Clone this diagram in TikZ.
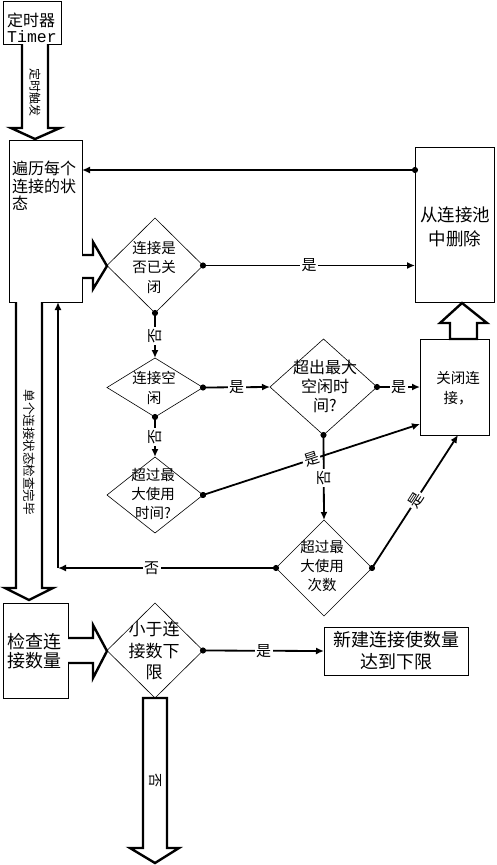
\documentclass[tikz,border=0pt]{standalone}
\usepackage{fontspec}
\newfontfamily\cjk{Noto Sans CJK SC}
\newfontfamily\monof{Liberation Mono}
\usetikzlibrary{shapes.geometric,arrows.meta}
\newcommand{\fs}[2]{\fontsize{#1}{#2}\selectfont}
\begin{document}
\begin{tikzpicture}[x=1pt,y=-1pt,
  every node/.style={font=\cjk},
  box/.style={draw,line width=0.9pt,inner sep=0pt,outer sep=0pt},
  dia/.style={draw,diamond,line width=0.6pt,inner sep=0pt,outer sep=0pt},
  txt/.style={align=center,inner sep=0pt},
  conn/.style={line width=1.8pt,shorten <=-3pt,{Circle[length=6pt]}-{Latex[length=8pt,width=7pt]}},
  lbl/.style={fill=white,inner sep=1.5pt,font=\cjk\fs{15}{15}},
  barrow/.style={draw,fill=white,line width=2.4pt,line join=miter},
  blbl/.style={inner sep=0pt,rotate=-90,font=\cjk\fs{12}{12}},
]
\useasboundingbox (0,0) rectangle (497,865);

% boxes
\node[box,minimum width=58pt,minimum height=43pt] (T) at (32,22.5) {};
\node[txt,font=\cjk\fs{16}{17}] (Tt1) at (31,20) {定时器};
\node[txt,font=\monof\fs{16.5}{17}] (Tt2) at (32,37) {Timer};

\node[box,minimum width=73pt,minimum height=162pt] (A) at (45.5,221) {};
\node[align=left,inner sep=0pt,anchor=north west,font=\cjk\fs{16}{17.5}] (At) at (12,161) {遍历每个\\连接的状\\态};

\node[box,minimum width=79pt,minimum height=155pt] (B) at (454.5,224.5) {};
\node[txt,font=\cjk\fs{17.5}{24}] (Bt) at (455,227) {从连接池\\中删除};

\node[box,minimum width=69pt,minimum height=96pt] (C) at (454.5,387) {};
\node[txt,font=\cjk\fs{14.5}{20}] (Ct) at (458,388) {关闭连\\接，};

\node[box,minimum width=65pt,minimum height=95pt] (E) at (35.5,650.5) {};
\node[txt,font=\cjk\fs{18}{19}] (Et) at (35,651) {检查连\\接数量};

\node[box,minimum width=144pt,minimum height=48pt] (F) at (396,651) {};
\node[txt,font=\cjk\fs{18}{22}] (Ft) at (396,651) {新建连接使数量\\达到下限};

% diamonds
\node[dia,minimum width=96pt,minimum height=95pt] (D1) at (155,265.5) {};
\node[txt,font=\cjk\fs{14.5}{19.5}] (D1t) at (154,267) {连接是\\否已关\\闭};
\node[dia,minimum width=96pt,minimum height=59pt] (D2) at (155,387.5) {};
\node[txt,font=\cjk\fs{14.5}{20}] (D2t) at (154,388) {连接空\\闲};
\node[dia,minimum width=107pt,minimum height=96pt] (D3) at (323.5,387) {};
\node[txt,font=\cjk\fs{16}{19}] (D3t) at (325,386) {超出最大\\空闲时\\间?};
\node[dia,minimum width=96pt,minimum height=76pt] (D4) at (155,495) {};
\node[txt,font=\cjk\fs{14.5}{19}] (D4t) at (153,494) {超过最\\大使用\\时间?};
\node[dia,minimum width=96pt,minimum height=96pt] (D5) at (324,568) {};
\node[txt,font=\cjk\fs{14.5}{19}] (D5t) at (322,566) {超过最\\大使用\\次数};
\node[dia,minimum width=96pt,minimum height=95pt] (D6) at (155,650.5) {};
\node[txt,font=\cjk\fs{17}{21.5}] (D6t) at (154,651) {小于连\\接数下\\限};

% block arrows
\draw[barrow] (22,44) -- (22,128) -- (11,128) -- (35,139) -- (60,128) -- (48,128) -- (48,44);
\node[blbl] (L1) at (35,92) {定时触发};
\draw[barrow] (82,255) -- (93,255) -- (93,242) -- (107,266) -- (93,289) -- (93,278) -- (82,278);
\draw[barrow] (16,302) -- (16,588) -- (5,588) -- (29,600) -- (53,588) -- (42,588) -- (42,302);
\node[blbl,font=\cjk\fs{12.5}{12.5}] (L2) at (29,452) {单个连接状态检查完毕};
\draw[barrow] (68,638) -- (93,638) -- (93,625) -- (107,651) -- (93,678) -- (93,663) -- (68,663);
\draw[barrow] (450,339) -- (450,323) -- (440,323) -- (462,303) -- (487,323) -- (477,323) -- (477,339) -- cycle;
\draw[barrow] (143,698) -- (143,848) -- (130,848) -- (155,863) -- (179,848) -- (167,848) -- (167,698) -- cycle;
\node[blbl,font=\cjk\fs{14}{14}] (L3) at (155,780) {否};

% connectors
\coordinate (b170) at ([yshift=54.5pt]B.west);
\draw[conn] (b170) -- (b170 -| A.east);
\draw[conn] (D1.east) -- node[lbl] {是} (D1.east -| B.west);
\draw[conn] (D1.south) -- node[lbl,rotate=90] {否} (D2.north);
\draw[conn] (D2.east) -- node[lbl] {是} (D3.west);
\draw[conn] (D3.east) -- node[lbl] {是} (C.west);
\draw[conn] (D2.south) -- node[lbl,rotate=90] {否} (D4.north);
\draw[conn] (D3.south) -- node[lbl,rotate=90,pos=0.5] {否} (D5.north);
\draw[conn] (D4.east) -- node[lbl,sloped,pos=0.5] {是} ([yshift=-37pt]C.west);
\draw[conn] (D5.east) -- node[lbl,sloped,pos=0.51] {是} ([xshift=3.5pt]C.south);
\coordinate (corner) at (58,568);
\draw[conn] (D5.west) -- node[lbl,pos=0.57] {否} (corner);
\draw[line width=1.8pt,-{Latex[length=8pt,width=7pt]}] (corner) -- (corner |- A.south);
\draw[conn] (D6.east) -- node[lbl] {是} (F.west);
\end{tikzpicture}
\end{document}
